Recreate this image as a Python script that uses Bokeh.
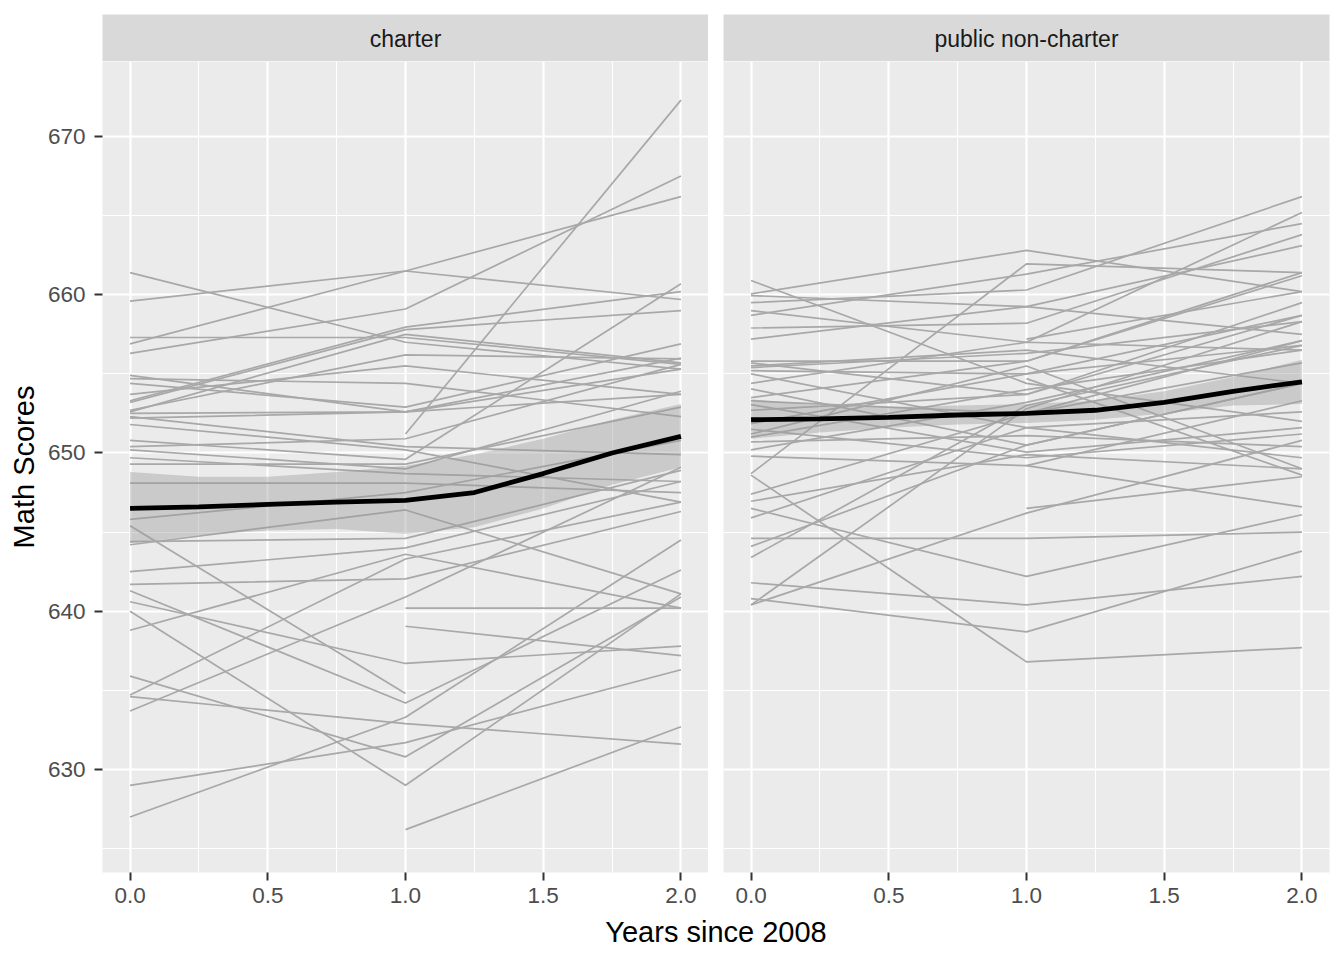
import math
from bokeh.plotting import figure
from bokeh.layouts import column, row
from bokeh.models import Range1d, FixedTicker, PrintfTickFormatter, Label, Grid
from bokeh.embed import file_html
from bokeh.resources import INLINE

nan = float("nan")

# ---------------- data ----------------
years = [0, 1, 2]
panel_names = ["charter", "public non-charter"]
x_title = "Years since 2008"
y_title = "Math Scores"

# charter schools: scores at year 0, 1, 2 (nan = missing)
charter_y0 = [661.4, 659.6, 656.9, 656.3, 657.3, 654.9, nan, 654.7, 654.4, 653.7,
              653.3, 653.2, 652.7, 652.6, 652.3, 652.2, 651.8, 650.8, 650.4, 650.2,
              649.7, 649.3, 648.1, 645.8, 645.4, 644.4, 644.2, 642.5, 641.7, 641.3,
              640.6, 640.0, 638.8, 635.9, 634.7, 634.6, 633.7, 629.0, 627.0, nan,
              nan, nan, 652.5]
charter_y1 = [657.0, 661.5, 661.5, 659.1, 657.3, 652.6, 651.2, 654.4, 652.9, 655.5,
              657.95, 657.8, 656.2, 657.5, 650.4, 652.6, 650.2, 649.6, 650.9, 649.0,
              648.7, 649.3, 648.1, 647.5, 634.8, 644.6, 646.4, 644.0, 642.05, 634.2,
              636.7, 629.0, 643.6, 630.8, 643.3, 632.9, 640.9, 631.7, 633.3, 639.05,
              626.2, 640.2, 652.6]
charter_y2 = [655.3, 659.7, 666.2, 667.5, 655.6, 656.0, 672.3, 652.3, 656.9, 653.7,
              660.2, 659.0, 655.95, 655.7, 649.9, 655.3, 646.9, 660.7, 655.6, 653.9,
              648.2, 652.9, 647.5, 650.8, nan, 648.9, 641.1, 648.2, 646.3, 642.6,
              637.8, 641.1, 640.2, 640.9, 646.9, 631.6, 649.1, 636.3, 644.5, 637.2,
              632.7, 640.2, 653.7]

# public non-charter schools
public_y0 = [660.9, 660.06, 659.95, 659.5, 659.0, 658.7, 657.9, 657.2, 655.8, 655.7,
             655.4, 655.2, 655.0, 654.4, 654.05, 653.5, 653.3, 653.06, 652.7, 651.85,
             651.5, 651.0, 650.7, 650.2, 649.8, 648.7, 648.6, 647.4, 646.95, 646.5,
             645.9, 644.6, 644.1, 643.4, 641.8, 640.8, 640.4, 640.4, nan, nan,
             651.2, nan, 655.5, nan]
public_y1 = [654.4, 662.8, 659.25, 660.3, 657.0, 661.3, 658.2, 659.25, 655.8, 653.7,
             656.3, 655.0, 651.6, 657.0, 650.5, 655.8, 652.5, 650.05, 653.7, 655.0,
             649.7, 654.0, 651.1, 653.2, 649.2, 661.95, 636.8, 652.5, 649.9, 642.2,
             651.6, 644.6, 650.5, 653.0, 640.4, 638.7, 646.2, 652.8, 646.5, 649.2,
             655.5, 654.7, 656.5, 657.2]
public_y2 = [652.0, 660.2, 663.1, 666.2, 665.2, 664.5, 663.8, 657.5, 661.4, 658.7,
             658.3, 656.8, 649.7, 656.5, 654.4, 661.2, 657.1, 651.6, 659.5, 658.7,
             651.2, 656.5, 650.4, 657.1, 653.3, 661.4, 637.7, 655.7, 649.0, 646.1,
             652.6, 645.0, 654.4, 656.8, 642.2, 643.8, 650.8, 658.3, 648.5, 646.6,
             649.0, 648.6, 654.4, 660.2]

# loess smooth with confidence band
smooth_x = [0, 0.25, 0.5, 0.75, 1, 1.25, 1.5, 1.75, 2]
charter_fit = [646.5, 646.6, 646.75, 646.9, 647.0, 647.5, 648.7, 650.0, 651.05]
charter_lo = [644.3, 644.8, 645.1, 645.2, 644.9, 645.3, 646.5, 648.0, 649.1]
charter_hi = [648.8, 648.5, 648.5, 648.8, 649.2, 649.9, 650.9, 652.1, 653.1]
public_fit = [652.1, 652.15, 652.25, 652.4, 652.5, 652.7, 653.2, 653.9, 654.5]
public_lo = [650.9, 651.3, 651.6, 651.8, 651.9, 652.1, 652.5, 653.0, 653.1]
public_hi = [653.4, 653.0, 652.9, 653.0, 653.1, 653.3, 653.9, 654.8, 655.9]

x_ticks = [0, 0.5, 1, 1.5, 2]
x_minor = [0.25, 0.75, 1.25, 1.75]
y_ticks = [630, 640, 650, 660, 670]
y_minor = [625, 635, 645, 655, 665]

# ---------------- style ----------------
FONT = "Liberation Sans"
Y_RANGE = (623.49, 674.74)
X_RANGE = (-0.1, 2.1)
FRAME_W, FRAME_H = 606, 811
LEFT_BORDER = 102
GAP = 15
RIGHT_BORDER = 7


def drop_grids(fig):
    fig.center = [r for r in fig.center if not isinstance(r, Grid)]


def panel(y0, y1, y2, fit, lo, hi, left):
    p = figure(frame_width=FRAME_W, frame_height=FRAME_H,
               x_range=Range1d(*X_RANGE), y_range=Range1d(*Y_RANGE),
               output_backend="svg", toolbar_location=None,
               y_axis_location="left" if left else None,
               min_border_left=LEFT_BORDER if left else GAP,
               min_border_right=0 if left else RIGHT_BORDER,
               min_border_top=0, min_border_bottom=38)
    p.background_fill_color = "#EBEBEB"
    p.border_fill_color = "white"
    p.outline_line_color = None
    drop_grids(p)
    xg = Grid(dimension=0, ticker=FixedTicker(ticks=x_ticks, minor_ticks=x_minor),
              grid_line_color="white", grid_line_width=2.2,
              minor_grid_line_color="white", minor_grid_line_width=1.1)
    yg = Grid(dimension=1, ticker=FixedTicker(ticks=y_ticks, minor_ticks=y_minor),
              grid_line_color="white", grid_line_width=2.2,
              minor_grid_line_color="white", minor_grid_line_width=1.1)
    p.add_layout(xg, "center")
    p.add_layout(yg, "center")

    axes = [p.xaxis[0]] + ([p.yaxis[0]] if left else [])
    for ax in axes:
        ax.axis_line_color = None
        ax.major_tick_out = 8
        ax.major_tick_in = 0
        ax.major_tick_line_color = "#333333"
        ax.major_tick_line_width = 2
        ax.minor_tick_line_color = None
        ax.major_label_text_font = FONT
        ax.major_label_text_font_size = "22.5px"
        ax.major_label_text_color = "#4D4D4D"
    p.xaxis[0].ticker = FixedTicker(ticks=x_ticks)
    p.xaxis[0].formatter = PrintfTickFormatter(format="%.1f")
    p.xaxis[0].major_label_standoff = 7
    if left:
        ya = p.yaxis[0]
        ya.ticker = FixedTicker(ticks=y_ticks)
        ya.major_label_standoff = 9
        ya.axis_label = y_title
        ya.axis_label_text_font = FONT
        ya.axis_label_text_font_size = "29px"
        ya.axis_label_text_font_style = "normal"
        ya.axis_label_text_color = "black"
        ya.axis_label_standoff = 5

    xs = [years for _ in y0]
    ys = [[a, b, c] for a, b, c in zip(y0, y1, y2)]
    p.multi_line(xs, ys, line_color="#A8A8A8", line_width=1.7)
    p.varea(x=smooth_x, y1=lo, y2=hi, fill_color="#999999", fill_alpha=0.4)
    p.line(smooth_x, fit, line_color="black", line_width=4.8)
    return p


def strip(text, left):
    s = figure(frame_width=FRAME_W, frame_height=47,
               x_range=Range1d(0, 1), y_range=Range1d(0, 1),
               min_border_left=LEFT_BORDER if left else GAP,
               min_border_right=0 if left else RIGHT_BORDER,
               min_border_top=14, min_border_bottom=0,
               x_axis_location=None, y_axis_location=None,
               toolbar_location=None, output_backend="svg")
    s.background_fill_color = "#D9D9D9"
    s.border_fill_color = "white"
    s.outline_line_color = None
    drop_grids(s)
    s.add_layout(Label(x=0.5, y=0.47, text=text, text_align="center",
                       text_baseline="middle", text_font=FONT,
                       text_font_size="23px", text_color="#1A1A1A"))
    return s


p1 = panel(charter_y0, charter_y1, charter_y2, charter_fit, charter_lo, charter_hi, True)
p2 = panel(public_y0, public_y1, public_y2, public_fit, public_lo, public_hi, False)
s1 = strip(panel_names[0], True)
s2 = strip(panel_names[1], False)

TOTAL_W = LEFT_BORDER + FRAME_W + GAP + FRAME_W + RIGHT_BORDER
xl = figure(width=TOTAL_W, height=46, x_range=Range1d(0, TOTAL_W), y_range=Range1d(0, 46),
            min_border=0, x_axis_location=None, y_axis_location=None,
            toolbar_location=None, output_backend="svg")
xl.outline_line_color = None
xl.background_fill_color = "white"
xl.border_fill_color = "white"
drop_grids(xl)
xl.add_layout(Label(x=715.5, y=25, text=x_title, text_align="center",
                    text_baseline="alphabetic", text_font=FONT,
                    text_font_size="29px", text_color="black"))

layout = column(row(s1, s2), row(p1, p2), xl)
open("out.html", "w").write(file_html(layout, INLINE))
